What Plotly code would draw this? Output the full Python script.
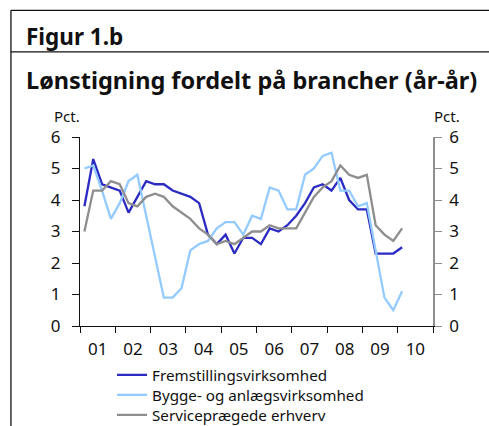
import plotly.graph_objects as go

# ---- data (quarterly, 2001Q1 .. 2010Q1) ----
quarters = [f"{2001 + i // 4}Q{i % 4 + 1}" for i in range(37)]
fremstilling = [3.8, 5.3, 4.5, 4.4, 4.3, 3.6, 4.1, 4.6, 4.5, 4.5, 4.3, 4.2, 4.1,
                3.9, 2.9, 2.6, 2.9, 2.3, 2.8, 2.8, 2.6, 3.1, 3.0, 3.2, 3.5, 3.9,
                4.4, 4.5, 4.3, 4.7, 4.0, 3.7, 3.7, 2.3, 2.3, 2.3, 2.5]
bygge = [5.0, 5.1, 4.3, 3.4, 3.9, 4.6, 4.8, 3.5, 2.1, 0.9, 0.9, 1.2, 2.4,
         2.6, 2.7, 3.1, 3.3, 3.3, 2.9, 3.5, 3.4, 4.4, 4.3, 3.7, 3.7, 4.8,
         5.0, 5.4, 5.5, 4.3, 4.3, 3.8, 3.9, 2.4, 0.9, 0.5, 1.1]
service = [3.0, 4.3, 4.3, 4.6, 4.5, 3.9, 3.8, 4.1, 4.2, 4.1, 3.8, 3.6, 3.4,
           3.1, 2.9, 2.6, 2.7, 2.6, 2.8, 3.0, 3.0, 3.2, 3.1, 3.1, 3.1, 3.6,
           4.1, 4.4, 4.6, 5.1, 4.8, 4.7, 4.8, 3.2, 2.9, 2.7, 3.1]
year_labels = ["01", "02", "03", "04", "05", "06", "07", "08", "09", "10"]
series_names = ["Fremstillingsvirksomhed", "Bygge- og anlægsvirksomhed", "Serviceprægede erhverv"]

# quarter -> decimal year at mid-quarter
xq = [int(q[:4]) + (int(q[-1]) - 0.5) / 4 for q in quarters]
years = [2001 + i for i in range(len(year_labels))]

W, H = 489, 426
L, R, T, B = 80, 432.7, 137.3, 325.7


def px(x):
    return (x - L) / (R - L)


def py(y):
    return (B - y) / (B - T)


FONT = "Noto Sans"
colors = ["#2B2BC4", "#94CBFF", "#8E8E8E"]
legend_ids = ["legend", "legend2", "legend3"]
legend_rows = [374.5, 394.5, 414.5]

fig = go.Figure()
for name, vals, c, lg in zip(series_names, [fremstilling, bygge, service], colors, legend_ids):
    fig.add_trace(go.Scatter(x=xq, y=vals, mode="lines", name=name, legend=lg,
                             line=dict(color=c, width=2.3)))
fig.add_trace(go.Scatter(x=[], y=[], yaxis="y2", showlegend=False))

legend_common = dict(xanchor="left", yanchor="middle", font=dict(size=15.2, color="#111", family=FONT),
                     itemwidth=30, bgcolor="rgba(0,0,0,0)", borderwidth=0)
legends = {}
for lg, row in zip(legend_ids, legend_rows):
    legends[lg] = dict(x=px(112), y=py(row), **legend_common)

fig.update_layout(
    width=W, height=H,
    margin=dict(l=L, r=W - R, t=T, b=H - B, pad=0, autoexpand=False),
    paper_bgcolor="white", plot_bgcolor="white",
    font=dict(family=FONT, size=17, color="#111"),
    showlegend=True,
    **legends,
    xaxis=dict(range=[2001, 2011], showgrid=False, zeroline=False,
               showline=True, linecolor="#111", linewidth=1.3,
               tickmode="array", tickvals=[y + 0.5 for y in years],
               ticktext=year_labels, ticks="", ticklabelstandoff=7,
               minor=dict(tickmode="array", tickvals=years + [2011],
                          ticks="outside", ticklen=6, tickcolor="#111", tickwidth=1),
               fixedrange=True),
    yaxis=dict(range=[0, 6], showgrid=False, zeroline=False,
               showline=True, linecolor="#111", linewidth=1.3,
               tickvals=[0, 1, 2, 3, 4, 5, 6], ticks="outside", ticklen=7,
               tickcolor="#111", ticklabelstandoff=8),
    yaxis2=dict(range=[0, 6], overlaying="y", side="right", showgrid=False,
                zeroline=False, showline=True, linecolor="#8E8E8E", linewidth=1.8,
                tickvals=[0, 1, 2, 3, 4, 5, 6], ticks="outside", ticklen=7,
                tickcolor="#8E8E8E", ticklabelstandoff=4),
)

# frame lines
line_k = dict(color="#111", width=1.3)
fig.add_shape(type="line", xref="paper", yref="paper", x0=px(11), x1=px(W), y0=py(11), y1=py(11), line=line_k)
fig.add_shape(type="line", xref="paper", yref="paper", x0=px(11), x1=px(W), y0=py(52.5), y1=py(52.5), line=line_k)
fig.add_shape(type="line", xref="paper", yref="paper", x0=px(11), x1=px(11), y0=py(11), y1=py(H), line=line_k)

fig.add_annotation(text="<b>Figur 1.b</b>", xref="paper", yref="paper", x=px(24), y=py(37),
                   xanchor="left", yanchor="middle", showarrow=False,
                   font=dict(size=22.5, family=FONT, color="#111"))
fig.add_annotation(text="<b>Lønstigning fordelt på brancher (år-år)</b>", xref="paper", yref="paper",
                   x=px(24), y=py(80), xanchor="left", yanchor="middle", showarrow=False,
                   font=dict(size=23.5, family=FONT, color="#111"))
fig.add_annotation(text="Pct.", xref="paper", yref="paper", x=px(67), y=py(116),
                   xanchor="center", yanchor="middle", showarrow=False,
                   font=dict(size=15, family=FONT, color="#111"))
fig.add_annotation(text="Pct.", xref="paper", yref="paper", x=px(447), y=py(116),
                   xanchor="center", yanchor="middle", showarrow=False,
                   font=dict(size=15, family=FONT, color="#111"))

fig.write_html("out.html", config={"displayModeBar": False},
               post_script="document.body.style.margin='0';")
